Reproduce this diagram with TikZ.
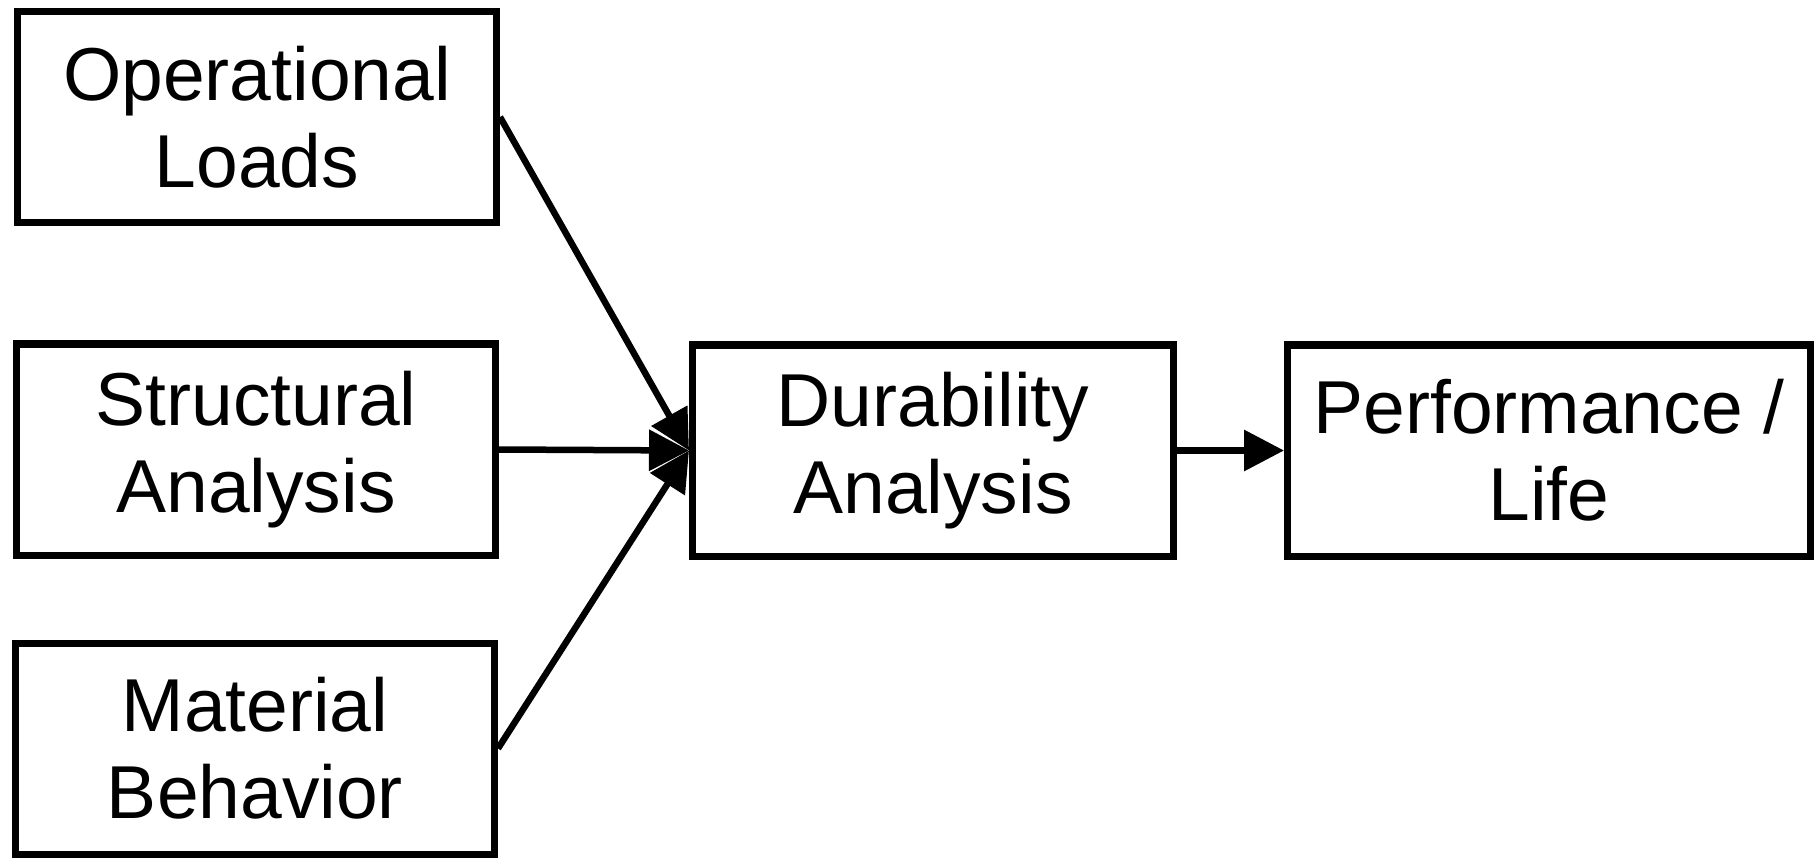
\documentclass[tikz,border=0pt]{standalone}
\usepackage{fontspec}
\setmainfont{Liberation Sans}
\usetikzlibrary{arrows.meta}
\begin{document}
\begin{tikzpicture}[x=0.4pt,y=-0.4pt,
  box/.style={draw=black, line width=2.8pt, align=center, inner sep=0pt,
    font=\fontsize{30pt}{34.8pt}\selectfont, minimum height=84.4pt},
  conn/.style={line width=2.6pt, -{Triangle[length=16pt,width=16pt]}}]
\useasboundingbox (0,0) rectangle (1820,859);
\node[box, minimum width=191.6pt] (ol) at (257,117) {Operational\\Loads};
\node[box, minimum width=191.6pt] (sa) at (256,449.5) {Structural\\Analysis};
\node[box, minimum width=191.6pt] (mb) at (255,748.5) {Material\\Behavior};
\node[box, minimum width=192.4pt] (da) at (933,450.5) {Durability\\Analysis};
\node[box, minimum width=209.2pt] (pl) at (1549,450.5) {Performance /\\Life};
\draw[conn] (ol.east) -- (da.west);
\draw[conn] (sa.east) -- (da.west);
\draw[conn] (mb.east) -- (da.west);
\draw[conn] (da.east) -- (pl.west);
\end{tikzpicture}
\end{document}
